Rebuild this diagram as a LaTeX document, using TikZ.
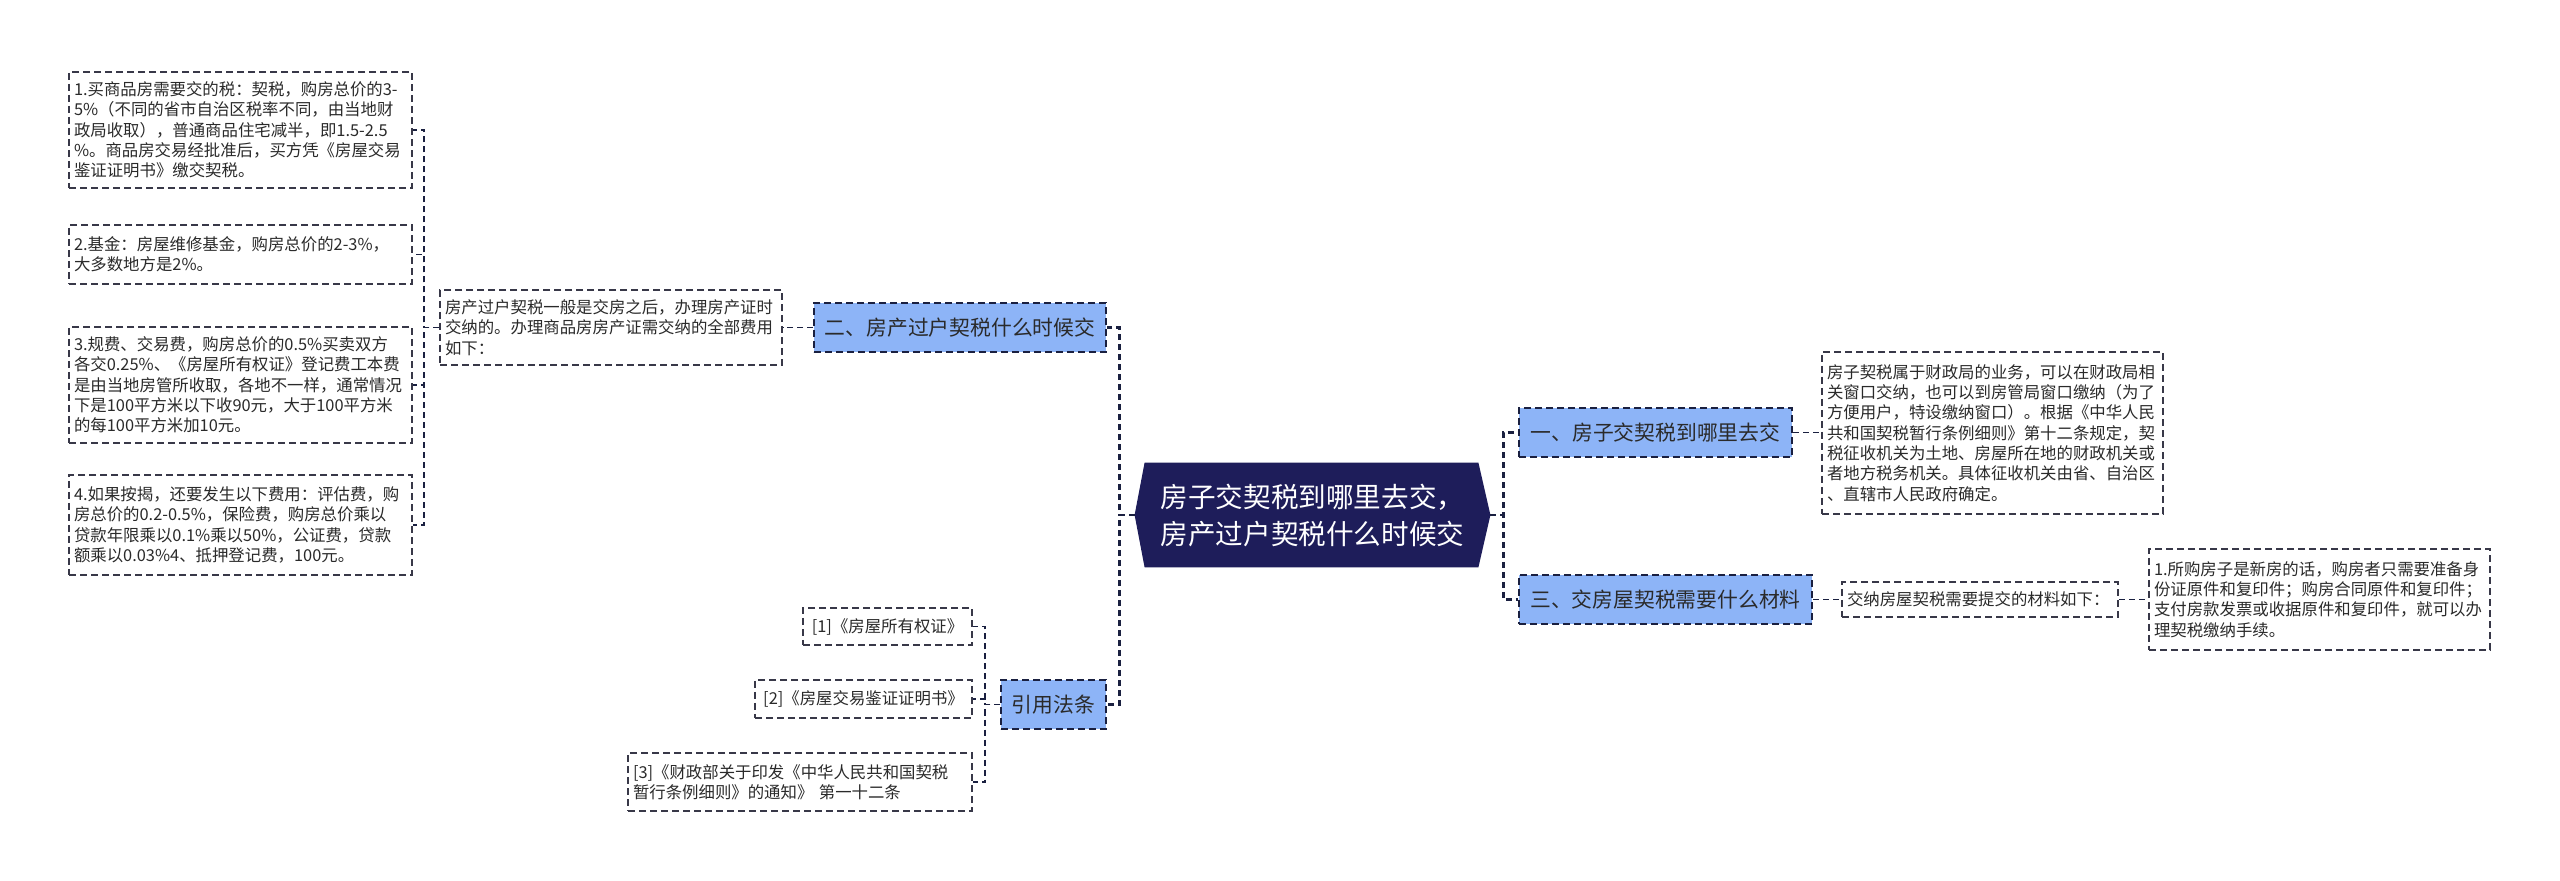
\documentclass[tikz,border=0pt]{standalone}
\usepackage{fontspec}
\newfontfamily\cjk{Noto Sans CJK SC}
\usetikzlibrary{backgrounds}
\definecolor{navy}{HTML}{1E1D5A}
\definecolor{bfill}{HTML}{8DB4F7}
\definecolor{lineC}{HTML}{1A2040}
\definecolor{boxC}{HTML}{383848}
\definecolor{txtC}{HTML}{2A2A2A}
\begin{document}
\begin{tikzpicture}[x=0.5pt,y=-0.5pt,
 leaf/.style={draw=boxC, line width=0.8pt, dash pattern=on 3.5pt off 2pt, font=\cjk\fontsize{8.2}{10.15}\selectfont, inner xsep=2.5pt, inner ysep=0pt, text=txtC, align=left},
 branch/.style={draw=lineC, fill=bfill, line width=1pt, dash pattern=on 3.5pt off 2pt, font=\cjk\fontsize{10.4}{12}\selectfont, text=txtC, inner sep=0pt},
 rootn/.style={font=\cjk\fontsize{13.8}{18.5}\selectfont, text=white, inner sep=0pt, align=left},
 bline/.style={draw=lineC, line width=1.4pt, dash pattern=on 3pt off 2pt},
 lline/.style={draw=lineC, line width=0.9pt, dash pattern=on 3pt off 2pt},
]
\useasboundingbox (0,0) rectangle (2560,881);

% left leaves
\node[leaf, minimum width=171.5pt, minimum height=58pt, text width=166.5pt] (b1) at (240.5,130)
 {1.买商品房需要交的税：契税，购房总价的3-\\5\%（不同的省市自治区税率不同，由当地财\\政局收取），普通商品住宅减半，即1.5-2.5\\\%。商品房交易经批准后，买方凭《房屋交易\\鉴证证明书》缴交契税。};
\node[leaf, minimum width=171.5pt, minimum height=29.5pt, text width=166.5pt] (b2) at (240.5,254.5)
 {2.基金：房屋维修基金，购房总价的2-3\%，\\大多数地方是2\%。};
\node[leaf, minimum width=171.5pt, minimum height=58pt, text width=166.5pt] (b3) at (240.5,385)
 {3.规费、交易费，购房总价的0.5\%买卖双方\\各交0.25\%、《房屋所有权证》登记费工本费\\是由当地房管所收取，各地不一样，通常情况\\下是100平方米以下收90元，大于100平方米\\的每100平方米加10元。};
\node[leaf, minimum width=171.5pt, minimum height=50pt, text width=166.5pt] (b4) at (240.5,525)
 {4.如果按揭，还要发生以下费用：评估费，购\\房总价的0.2-0.5\%，保险费，购房总价乘以\\贷款年限乘以0.1\%乘以50\%，公证费，贷款\\额乘以0.03\%4、抵押登记费，100元。};

\node[leaf, minimum width=171pt, minimum height=37.5pt, text width=166pt] (mid) at (611,327.5)
 {房产过户契税一般是交房之后，办理房产证时\\交纳的。办理商品房房产证需交纳的全部费用\\如下：};

\node[branch, minimum width=146pt, minimum height=24.5pt] (er) at (960,327.5) {二、房产过户契税什么时候交};
\node[branch, minimum width=52.5pt, minimum height=24.5pt] (yy) at (1053.5,704.5) {引用法条};

\node[leaf, minimum width=84.5pt, minimum height=18.5pt, align=center] (r1) at (887.5,626.5) {[1]《房屋所有权证》};
\node[leaf, minimum width=108.5pt, minimum height=19pt, align=center] (r2) at (863.5,699) {[2]《房屋交易鉴证证明书》};
\node[leaf, minimum width=172pt, minimum height=29pt, text width=167pt] (r3) at (800,782)
 {[3]《财政部关于印发《中华人民共和国契税\\暂行条例细则》的通知》~第一十二条};

% root
\node[rootn, minimum width=177.5pt, minimum height=52pt] (root) at (1312.5,515)
 {房子交契税到哪里去交，\\房产过户契税什么时候交};

% right side
\node[branch, minimum width=136.5pt, minimum height=24.5pt] (yi) at (1655.5,432.5) {一、房子交契税到哪里去交};
\node[branch, minimum width=146.5pt, minimum height=24.5pt] (san) at (1665.5,599.5) {三、交房屋契税需要什么材料};

\node[leaf, minimum width=170.5pt, minimum height=81pt, text width=165.5pt] (c1) at (1992.5,433)
 {房子契税属于财政局的业务，可以在财政局相\\关窗口交纳，也可以到房管局窗口缴纳（为了\\方便用户，特设缴纳窗口）。根据《中华人民\\共和国契税暂行条例细则》第十二条规定，契\\税征收机关为土地、房屋所在地的财政机关或\\者地方税务机关。具体征收机关由省、自治区\\、直辖市人民政府确定。};
\node[leaf, minimum width=138pt, minimum height=17.5pt, text width=133pt] (jn) at (1980,599.5)
 {交纳房屋契税需要提交的材料如下：};
\node[leaf, minimum width=170.5pt, minimum height=50.5pt, text width=165.5pt] (c3) at (2319.5,599.5)
 {1.所购房子是新房的话，购房者只需要准备身\\份证原件和复印件；购房合同原件和复印件；\\支付房款发票或收据原件和复印件，就可以办\\理契税缴纳手续。};

\begin{scope}[on background layer]
\fill[white] (0,0) rectangle (2560,881);
\fill[navy] ([xshift=5pt]root.north west) -- ([xshift=-6pt]root.north east) -- (root.east)
  -- ([xshift=-6pt]root.south east) -- ([xshift=5pt]root.south west) -- (root.west) -- cycle;
\end{scope}

% connectors
\draw[bline] (root.west) -- ++(-15,0) |- (er.east);
\draw[bline] (root.west) -- ++(-15,0) |- (yy.east);
\draw[bline] (root.east) -- ++(13,0) |- (yi.west);
\draw[bline] (root.east) -- ++(13,0) |- (san.west);

\draw[lline] (er.west) -- (mid.east);
\draw[lline] (mid.west) -- ++(-15,0) |- (b1.east);
\draw[lline] (mid.west) -- ++(-15,0) |- (b2.east);
\draw[lline] (mid.west) -- ++(-15,0) |- (b3.east);
\draw[lline] (mid.west) -- ++(-15,0) |- (b4.east);

\draw[lline] (yy.west) -- ++(-15,0) |- (r1.east);
\draw[lline] (yy.west) -- ++(-15,0) |- (r2.east);
\draw[lline] (yy.west) -- ++(-15,0) |- (r3.east);

\draw[lline] (yi.east) -- (yi.east -| c1.west);
\draw[lline] (san.east) -- (jn.west);
\draw[lline] (jn.east) -- (c3.west);
\end{tikzpicture}
\end{document}
